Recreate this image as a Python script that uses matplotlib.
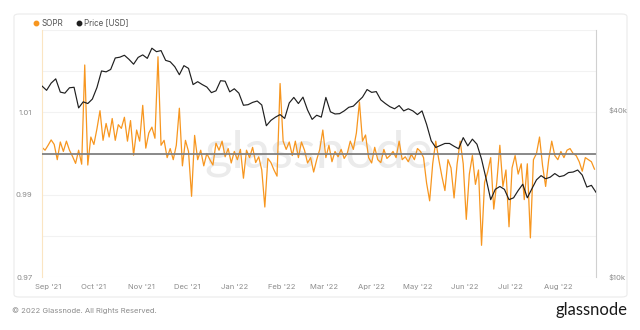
import matplotlib
matplotlib.use("Agg")
import matplotlib.pyplot as plt
import pandas as pd
from matplotlib.patches import FancyBboxPatch
from matplotlib.lines import Line2D

plt.rcParams['font.family'] = ['Inter', 'DejaVu Sans']

# SOPR, one value every 2 days from 2021-08-28
sopr_start = '2021-08-28'
sopr = [
    1.0015, 1.0008, 1.0020, 1.0033, 1.0022, 0.9985, 1.0028, 1.0005, 1.0030, 1.0008, 0.9993, 0.9976, 1.0008, 0.9974, 1.0215,
    0.9972, 1.0040, 1.0022, 1.0060, 1.0104, 1.0032, 1.0073, 1.0040, 1.0085, 1.0032, 1.0070, 1.0061, 1.0088, 1.0030, 1.0080,
    0.9996, 1.0057, 1.0030, 1.0117, 1.0013, 1.0050, 1.0064, 1.0037, 1.0235, 1.0020, 1.0032, 0.9990, 1.0012, 0.9985, 1.0020,
    1.0110, 0.9970, 1.0032, 1.0005, 0.9896, 1.0044, 0.9985, 1.0008, 0.9970, 1.0000, 0.9985, 0.9972, 1.0025, 1.0008, 1.0030,
    0.9992, 1.0012, 0.9977, 1.0005, 0.9985, 1.0010, 0.9940, 1.0008, 0.9990, 1.0015, 0.9978, 0.9992, 0.9960, 0.9870, 0.9988,
    0.9978, 0.9960, 0.9945, 1.0170, 1.0030, 1.0010, 1.0028, 0.9995, 1.0030, 0.9990, 1.0028, 1.0008, 0.9977, 0.9990, 0.9955,
    0.9985, 1.0010, 1.0057, 0.9990, 1.0020, 0.9980, 1.0005, 0.9992, 1.0010, 0.9988, 1.0000, 1.0030, 1.0010, 1.0050, 1.0125,
    1.0030, 1.0045, 0.9990, 0.9977, 1.0015, 0.9985, 0.9978, 1.0010, 0.9988, 0.9995, 1.0005, 0.9990, 1.0030, 0.9985, 0.9992,
    0.9980, 0.9998, 0.9985, 1.0012, 1.0005, 0.9990, 0.9928, 0.9885, 0.9975, 1.0030, 0.9985, 0.9945, 0.9910, 0.9985, 0.9965,
    0.9892, 0.9975, 1.0030, 0.9975, 0.9840, 0.9950, 0.9995, 0.9925, 0.9960, 0.9777, 0.9930, 0.9955, 0.9990, 0.9865, 0.9930,
    1.0020, 0.9920, 0.9960, 0.9822, 0.9965, 0.9995, 0.9950, 0.9975, 0.9888, 0.9975, 0.9795, 0.9985, 1.0000, 1.0040, 0.9970,
    0.9920, 0.9985, 1.0030, 0.9995, 0.9985, 1.0005, 0.9990, 1.0008, 1.0012, 1.0000, 0.9995, 0.9980, 0.9957, 0.9990, 0.9985,
    0.9980, 0.9962,
]

# BTC price in thousands USD, one value every 3 days from 2021-08-28
price_start = '2021-08-28'
price_k = [
    48.8, 47.1, 50.0, 51.8, 46.4, 46.0, 48.1, 48.3, 40.7, 42.8,
    42.2, 43.8, 48.2, 55.3, 54.9, 56.0, 61.6, 62.0, 63.0, 60.9,
    58.5, 61.9, 63.2, 61.4, 66.8, 64.9, 65.5, 60.4, 59.7, 57.3,
    53.6, 57.8, 56.5, 49.4, 50.6, 49.4, 48.4, 46.2, 46.9, 51.0,
    50.8, 46.5, 47.7, 46.0, 41.6, 41.8, 42.6, 43.1, 41.7, 35.1,
    36.7, 37.7, 38.5, 37.3, 42.4, 44.4, 42.2, 44.5, 40.0, 37.0,
    38.3, 37.7, 44.4, 39.4, 38.7, 38.8, 39.7, 40.9, 41.3, 42.9,
    44.5, 47.4, 46.3, 46.6, 43.5, 42.2, 41.1, 40.4, 41.5, 39.7,
    40.4, 39.7, 38.5, 39.7, 35.5, 31.0, 29.3, 29.8, 30.3, 30.3,
    29.6, 29.0, 31.8, 29.7, 31.4, 30.1, 26.6, 22.6, 19.0, 20.7,
    21.2, 20.7, 19.0, 19.3, 20.5, 21.6, 19.3, 20.8, 22.4, 23.2,
    22.6, 22.9, 23.6, 23.0, 23.2, 23.8, 23.9, 24.3, 23.3, 21.1,
    21.4, 20.2,
]

month_ticks = pd.date_range('2021-09-01', '2022-08-01', freq='MS')
month_labels = [d.strftime("%b '%y") for d in month_ticks]
sopr_ticks = [0.97, 0.99, 1.01]
sopr_grid = [0.97, 0.98, 0.99, 1.00, 1.01, 1.02, 1.03]
price_ticks = [10000, 40000]
price_labels = ['$10k', '$40k']

sopr_dates = pd.date_range(sopr_start, periods=len(sopr), freq='2D')
price_dates = pd.date_range(price_start, periods=len(price_k), freq='3D')
price = [p * 1000 for p in price_k]

orange = '#f7961f'
grey_txt = '#8c8c8c'

fig = plt.figure(figsize=(6.4, 3.3), dpi=100)
fig.patch.set_facecolor('white')
card = FancyBboxPatch((14 / 640, 33 / 330), 613 / 640, 283 / 330,
                      boxstyle='round,pad=0,rounding_size=0.008',
                      transform=fig.transFigure, fc='white', ec='#ebebeb', lw=0.8,
                      zorder=-5)
fig.patches.append(card)

ax = fig.add_axes([42 / 640, 53 / 330, 554 / 640, 247 / 330])
ax.set_facecolor('none')
ax.set_ylim(0.97, 1.03)
ax.set_xlim(pd.Timestamp('2021-08-28'), pd.Timestamp('2022-08-26'))

for g in sopr_grid:
    ax.axhline(g, color='#f2f2f2', lw=0.8, zorder=0)

# faint watermark behind the lines
ax.text(0.5, 0.5, 'glassnode', transform=ax.transAxes, ha='center', va='center',
        fontsize=38, color='#ebebeb', family=['Lato', 'DejaVu Sans'], zorder=1)

ax.plot(sopr_dates, sopr, color=orange, lw=0.9, zorder=2)
ax.axhline(1.0, color='#808080', lw=1.3, zorder=3)

ax.set_yticks(sopr_ticks)
ax.set_yticklabels([f'{t:.2f}' for t in sopr_ticks])
ax.set_xticks(month_ticks)
ax.set_xticklabels(month_labels)
ax.tick_params(axis='both', length=0, labelsize=5.5, labelcolor=grey_txt)
ax.tick_params(axis='x', pad=5)
ax.tick_params(axis='y', pad=7)
for s in ['top', 'bottom', 'right']:
    ax.spines[s].set_visible(False)
ax.spines['left'].set_color('#fbe5c2')
ax.spines['left'].set_linewidth(0.8)

ax2 = ax.twinx()
ax2.set_yscale('log')
ax2.set_ylim(10000, 77700)
ax2.plot(price_dates, price, color='#1f1f1f', lw=0.85, zorder=4)
ax2.yaxis.set_major_locator(matplotlib.ticker.FixedLocator(price_ticks))
ax2.yaxis.set_minor_locator(matplotlib.ticker.NullLocator())
ax2.set_yticklabels(price_labels)
ax2.tick_params(axis='y', length=0, labelsize=5.5, labelcolor=grey_txt, pad=9)
for s in ['top', 'bottom', 'left']:
    ax2.spines[s].set_visible(False)
ax2.spines['right'].set_color('#d0d0d0')
ax2.spines['right'].set_linewidth(0.8)

handles = [Line2D([], [], marker='o', ls='none', color=orange, markersize=3.2),
           Line2D([], [], marker='o', ls='none', color='#1f1f1f', markersize=3.2)]
fig.legend(handles, ['SOPR', 'Price [USD]'], loc='center left',
           bbox_to_anchor=(26 / 640, 1 - 23 / 330), ncol=2, frameon=False,
           fontsize=5.8, labelcolor='#555555', handletextpad=0.2,
           columnspacing=1.6, handlelength=0.8)

fig.text(12 / 640, 1 - 311 / 330, '\u00a9 2022 Glassnode. All Rights Reserved.',
         fontsize=5.5, color=grey_txt, va='center')
fig.text(628 / 640, 1 - 310 / 330, 'glassnode', fontsize=12, color='#1a1a1a',
         ha='right', va='center', family=['Lato', 'DejaVu Sans'])

fig.savefig('out.png', dpi=100, facecolor='white')
